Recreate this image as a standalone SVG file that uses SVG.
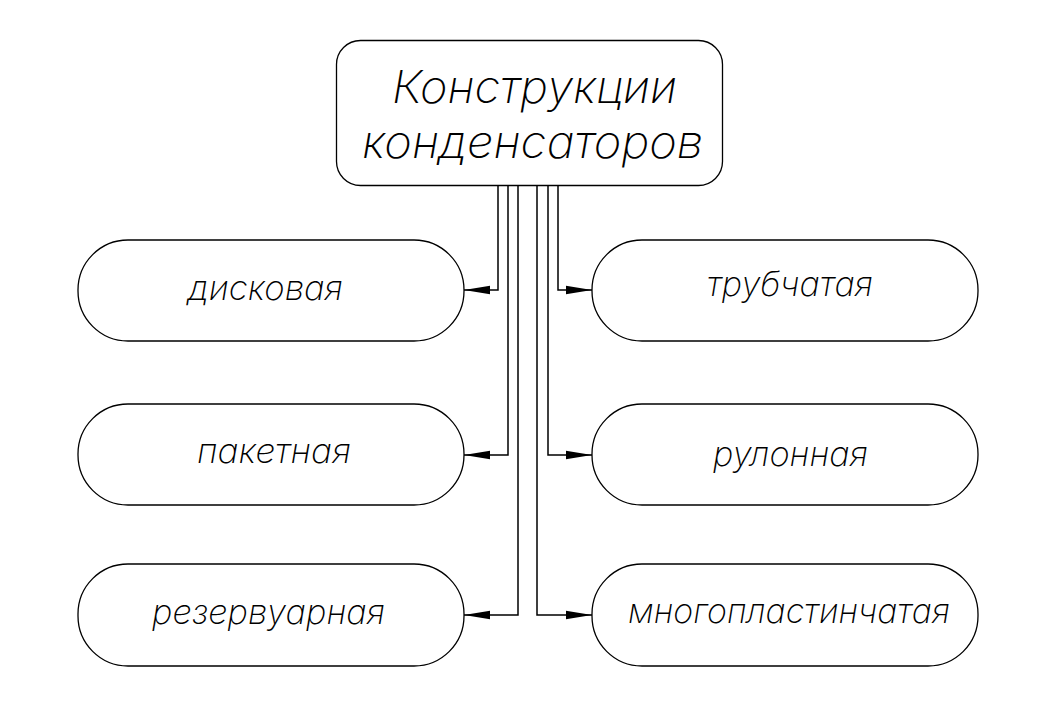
<svg xmlns="http://www.w3.org/2000/svg" width="1056" height="717" viewBox="0 0 1056 717">
<style>
.box{fill:#fff;stroke:#000;stroke-width:1.3}
.lbl{font-family:Inter,"Liberation Sans",Arial,sans-serif;font-style:italic;font-weight:200;font-size:34px;fill:#000}
.ttl{font-family:Inter,"Liberation Sans",Arial,sans-serif;font-style:italic;font-weight:200;font-size:45px;fill:#000}
.con{fill:none;stroke:#000;stroke-width:1.5}
</style>
<defs>
<marker id="ah" viewBox="0 0 26 10" refX="26" refY="5" markerWidth="26" markerHeight="10" markerUnits="userSpaceOnUse" orient="auto">
<path d="M0,0.8 L26,5 L0,9.2 Z" fill="#000"/>
</marker>
</defs>
<rect width="1056" height="717" fill="#fff"/>
<g id="root">
<rect class="box" x="336.5" y="40.5" width="386" height="145" rx="24" ry="24"/>
<text class="ttl" x="392" y="103" textLength="285" lengthAdjust="spacingAndGlyphs">Конструкции</text>
<text class="ttl" x="362" y="158" textLength="341" lengthAdjust="spacingAndGlyphs">конденсаторов</text>
</g>
<g id="connectors">
<path class="con" d="M498,185 V290 H464" marker-end="url(#ah)"/>
<path class="con" d="M508,185 V455 H464" marker-end="url(#ah)"/>
<path class="con" d="M518,185 V615 H464" marker-end="url(#ah)"/>
<path class="con" d="M537,185 V615 H592" marker-end="url(#ah)"/>
<path class="con" d="M548,185 V455 H592" marker-end="url(#ah)"/>
<path class="con" d="M558,185 V290 H592" marker-end="url(#ah)"/>
</g>
<g id="n-diskovaya">
<rect class="box" x="78" y="240" width="386" height="101" rx="50" ry="50"/>
<text class="lbl" x="188" y="300" textLength="155" lengthAdjust="spacingAndGlyphs">дисковая</text>
</g>
<g id="n-paketnaya">
<rect class="box" x="78" y="404" width="386" height="101" rx="50" ry="50"/>
<text class="lbl" x="197" y="463" textLength="154" lengthAdjust="spacingAndGlyphs">пакетная</text>
</g>
<g id="n-rezervuarnaya">
<rect class="box" x="78" y="564" width="386" height="102" rx="50" ry="50"/>
<text class="lbl" x="152" y="624" textLength="233" lengthAdjust="spacingAndGlyphs">резервуарная</text>
</g>
<g id="n-trubchataya">
<rect class="box" x="592" y="240" width="386" height="101" rx="50" ry="50"/>
<text class="lbl" x="707" y="296" textLength="166" lengthAdjust="spacingAndGlyphs">трубчатая</text>
</g>
<g id="n-rulonnaya">
<rect class="box" x="592" y="404" width="386" height="101" rx="50" ry="50"/>
<text class="lbl" x="713" y="466" textLength="155" lengthAdjust="spacingAndGlyphs">рулонная</text>
</g>
<g id="n-mnogoplastinchataya">
<rect class="box" x="592" y="564" width="386" height="102" rx="50" ry="50"/>
<text class="lbl" x="628" y="623" textLength="322" lengthAdjust="spacingAndGlyphs">многопластинчатая</text>
</g>
</svg>
